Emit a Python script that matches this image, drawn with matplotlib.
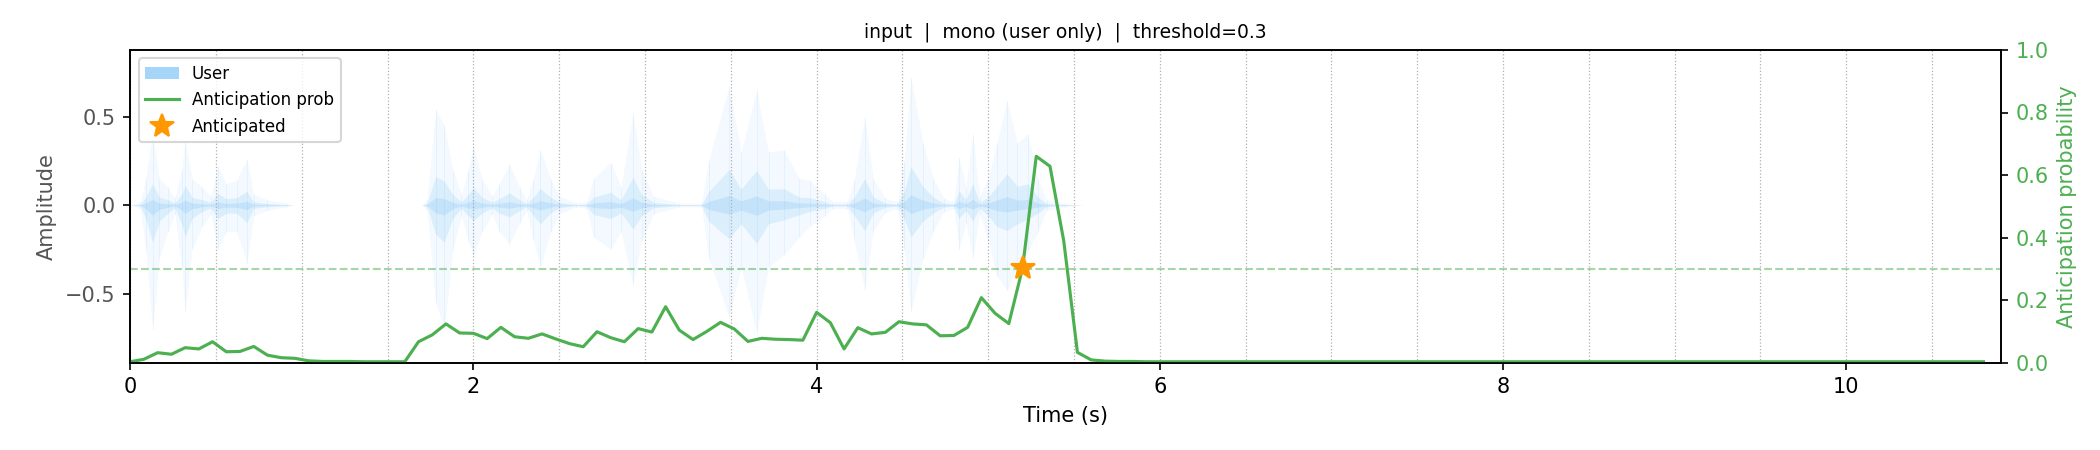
import numpy as np
import matplotlib
matplotlib.use("Agg")
import matplotlib.pyplot as plt
from matplotlib.patches import Patch
from matplotlib.lines import Line2D
from matplotlib.ticker import MultipleLocator

# ---- values ---------------------------------------------------------------
audio_duration = 10.90   # seconds of user audio (x-limit)
frame_step = 0.08        # seconds between anticipation frames
threshold = 0.3

# user waveform envelope: time (s), positive peak, negative peak (magnitude)
env_t = [0.00, 0.06, 0.09, 0.13, 0.17, 0.22, 0.26, 0.30, 0.32, 0.36,
         0.42, 0.47, 0.51, 0.56, 0.62, 0.68, 0.72, 0.80, 0.91, 0.95,
         1.70, 1.73, 1.78, 1.83, 1.88, 1.93, 1.97, 2.00, 2.05, 2.11,
         2.15, 2.21, 2.27, 2.31, 2.35, 2.39, 2.45, 2.50, 2.60, 2.66,
         2.70, 2.80, 2.86, 2.93, 2.98, 3.05, 3.20, 3.33, 3.37, 3.49,
         3.56, 3.65, 3.72, 3.81, 3.90, 3.96, 4.05, 4.09, 4.18, 4.22,
         4.28, 4.33, 4.40, 4.47, 4.51, 4.55, 4.62, 4.68, 4.74, 4.80,
         4.83, 4.87, 4.91, 4.95, 5.00, 5.05, 5.11, 5.17, 5.23, 5.29,
         5.34, 5.45, 5.55]
env_pos = [0.00, 0.02, 0.15, 0.40, 0.15, 0.10, 0.04, 0.20, 0.37, 0.15,
           0.10, 0.05, 0.22, 0.12, 0.14, 0.26, 0.06, 0.03, 0.01, 0.00,
           0.00, 0.03, 0.54, 0.45, 0.20, 0.06, 0.20, 0.33, 0.15, 0.05,
           0.12, 0.23, 0.10, 0.03, 0.15, 0.31, 0.15, 0.05, 0.01, 0.02,
           0.15, 0.24, 0.10, 0.52, 0.20, 0.05, 0.01, 0.01, 0.25, 0.67,
           0.30, 0.65, 0.30, 0.31, 0.15, 0.14, 0.06, 0.02, 0.02, 0.15,
           0.50, 0.15, 0.04, 0.02, 0.25, 0.72, 0.35, 0.15, 0.04, 0.02,
           0.27, 0.10, 0.40, 0.05, 0.15, 0.35, 0.59, 0.35, 0.40, 0.15,
           0.03, 0.01, 0.00]
env_neg = [0.00, 0.02, 0.25, 0.70, 0.30, 0.15, 0.05, 0.35, 0.60, 0.25,
           0.12, 0.05, 0.25, 0.15, 0.15, 0.33, 0.06, 0.03, 0.01, 0.00,
           0.00, 0.03, 0.55, 0.70, 0.25, 0.06, 0.20, 0.29, 0.15, 0.05,
           0.15, 0.22, 0.10, 0.03, 0.20, 0.35, 0.15, 0.05, 0.01, 0.02,
           0.18, 0.25, 0.15, 0.45, 0.20, 0.05, 0.01, 0.01, 0.30, 0.63,
           0.35, 0.72, 0.35, 0.28, 0.18, 0.12, 0.06, 0.02, 0.02, 0.20,
           0.48, 0.15, 0.04, 0.02, 0.25, 0.60, 0.30, 0.15, 0.04, 0.02,
           0.25, 0.10, 0.30, 0.05, 0.20, 0.40, 0.48, 0.35, 0.26, 0.15,
           0.03, 0.01, 0.00]

# anticipation probability, one value per frame starting at t = 0
prob = [0.003, 0.011, 0.032, 0.027, 0.048, 0.044, 0.067, 0.035, 0.036, 0.052,
        0.024, 0.016, 0.014, 0.006, 0.004, 0.004, 0.004, 0.003, 0.003, 0.003,
        0.003, 0.067, 0.089, 0.124, 0.095, 0.094, 0.077, 0.113, 0.083, 0.078,
        0.092, 0.076, 0.061, 0.051, 0.099, 0.080, 0.067, 0.109, 0.098, 0.179,
        0.104, 0.074, 0.100, 0.129, 0.108, 0.068, 0.078, 0.075, 0.074, 0.072,
        0.161, 0.128, 0.044, 0.112, 0.092, 0.097, 0.131, 0.124, 0.121, 0.086,
        0.087, 0.113, 0.208, 0.158, 0.125, 0.302, 0.660, 0.628, 0.390, 0.033,
        0.009, 0.005, 0.004, 0.004, 0.003, 0.003, 0.003, 0.003, 0.003, 0.003,
        0.003, 0.003, 0.003, 0.003, 0.003, 0.003, 0.003, 0.003, 0.003, 0.003,
        0.003, 0.003, 0.003, 0.003, 0.003, 0.003, 0.003, 0.003, 0.003, 0.003,
        0.003, 0.003, 0.003, 0.003, 0.003, 0.003, 0.003, 0.003, 0.003, 0.003,
        0.003, 0.003, 0.003, 0.003, 0.003, 0.003, 0.003, 0.003, 0.003, 0.003,
        0.003, 0.003, 0.003, 0.003, 0.003, 0.003, 0.003, 0.003, 0.003, 0.003,
        0.003, 0.003, 0.003, 0.003, 0.003, 0.003]

wave_color = "#2196F3"
prob_color = "#4CAF50"
star_color = "#FF9800"
left_color = "#555555"

# ---- figure ---------------------------------------------------------------
fig, ax = plt.subplots(figsize=(14, 3), dpi=150)
fig.subplots_adjust(left=0.062, right=0.9527, bottom=0.194, top=0.889)

env_t = np.array(env_t)
env_pos = np.array(env_pos)
env_neg = np.array(env_neg)

# faint waveform: outer peaks, denser core, and thin striations
ax.fill_between(env_t, -env_neg, env_pos, color=wave_color, alpha=0.05, lw=0)
ax.fill_between(env_t, -env_neg * 0.3, env_pos * 0.3, color=wave_color,
                alpha=0.11, lw=0)
ax.fill_between(env_t, -env_neg * 0.08, env_pos * 0.08, color=wave_color,
                alpha=0.12, lw=0)
ax.vlines(env_t, -env_neg, env_pos, color=wave_color, alpha=0.07, lw=0.5)

ax.set_xlim(0, audio_duration)
ax.set_ylim(-0.89, 0.876)
ax.set_yticks([-0.5, 0.0, 0.5])
ax.set_ylabel("Amplitude", color=left_color)
ax.tick_params(axis="y", labelcolor=left_color)
ax.set_xlabel("Time (s)")
ax.set_title("input  |  mono (user only)  |  threshold=0.3", fontsize=9)

ax.xaxis.set_major_locator(MultipleLocator(2))
ax.xaxis.set_minor_locator(MultipleLocator(0.5))
ax.tick_params(axis="x", which="minor", length=0)
ax.grid(axis="x", which="both", linestyle=":", linewidth=0.6, color="#b0b0b0")

# anticipation probability on the right axis
ax2 = ax.twinx()
prob_t = np.arange(len(prob)) * frame_step
ax2.plot(prob_t, prob, color=prob_color, lw=1.5)
ax2.axhline(threshold, color=prob_color, ls="--", lw=1, alpha=0.5)

hit = next(i for i, p in enumerate(prob) if p >= threshold)
ax2.plot(prob_t[hit], prob[hit], marker="*", color=star_color, ms=12,
         ls="none", zorder=5)

ax2.set_ylim(0, 1)
ax2.set_ylabel("Anticipation probability", color=prob_color)
ax2.tick_params(axis="y", labelcolor=prob_color)

handles = [
    Patch(facecolor=wave_color, alpha=0.4, label="User"),
    Line2D([], [], color=prob_color, lw=1.5, label="Anticipation prob"),
    Line2D([], [], marker="*", color=star_color, ms=12, ls="none",
           label="Anticipated"),
]
ax2.legend(handles=handles, loc="upper left", fontsize=8)

fig.savefig("out.png", dpi=150)
